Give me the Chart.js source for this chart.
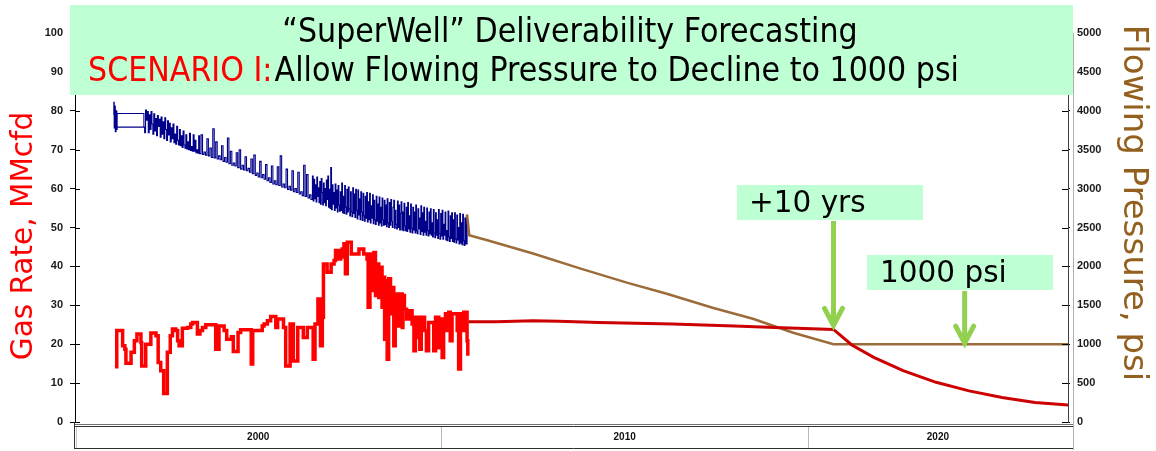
<!DOCTYPE html>
<html>
<head>
<meta charset="utf-8">
<script src="https://cdn.jsdelivr.net/npm/chart.js@4.4.1/dist/chart.umd.min.js"></script>
<style>
  html, body { margin: 0; padding: 0; background: #ffffff; overflow: hidden; }
  canvas { display: block; }
</style>
</head>
<body>
<canvas id="chart" width="1156" height="451"></canvas>
<script>
// ---- Axis definitions ----
const yearMin = 2000;
const yearMax = 2027.1;
const decadeStarts = [2000, 2010, 2020];
const decadeLabels = ['2000', '2010', '2020'];
const gasRateTicks = [0, 10, 20, 30, 40, 50, 60, 70, 80, 90, 100];
const pressureTicks = [0, 500, 1000, 1500, 2000, 2500, 3000, 3500, 4000, 4500, 5000];

// ---- Gas rate history, MMcfd (step series: value holds until next date) ----
const gasHistory = [
  [2001.09, 14.2], [2001.14, 23.5], [2001.30, 19.6], [2001.36, 18.7], [2001.39, 15.1],
  [2001.53, 17.9], [2001.62, 20.9], [2001.69, 22.6], [2001.80, 20.4], [2001.82, 14.4],
  [2001.93, 20.0], [2002.07, 22.9], [2002.21, 22.2], [2002.27, 15.3], [2002.34, 13.2],
  [2002.42, 7.3], [2002.52, 17.9], [2002.60, 22.2], [2002.66, 23.9], [2002.75, 23.5],
  [2002.80, 20.9], [2002.84, 19.6], [2002.93, 24.1], [2003.07, 24.3], [2003.16, 25.2],
  [2003.21, 25.6], [2003.34, 22.6], [2003.41, 23.5], [2003.48, 24.3], [2003.57, 25.0],
  [2003.84, 18.7], [2003.93, 24.7], [2004.07, 23.5], [2004.14, 21.3], [2004.27, 21.9],
  [2004.32, 18.1], [2004.45, 23.0], [2004.52, 23.7], [2004.81, 14.9], [2004.85, 23.5],
  [2005.11, 24.7], [2005.16, 25.2], [2005.25, 26.0], [2005.34, 27.1], [2005.48, 24.3],
  [2005.53, 26.5], [2005.69, 24.3], [2005.75, 14.4], [2005.87, 25.2], [2005.96, 15.7],
  [2006.08, 24.3], [2006.23, 21.7], [2006.34, 24.3], [2006.50, 16.1], [2006.55, 25.2],
  [2006.63, 31.6], [2006.70, 19.6], [2006.75, 26.9], [2006.78, 40.6], [2006.88, 38.5],
  [2006.99, 40.6], [2007.07, 41.5], [2007.11, 44.1], [2007.20, 41.9], [2007.25, 42.4],
  [2007.29, 44.5], [2007.34, 45.8], [2007.38, 38.1], [2007.43, 46.2], [2007.54, 43.2],
  [2007.75, 44.5], [2007.88, 43.2], [2007.97, 41.9], [2008.00, 29.5], [2008.05, 43.2],
  [2008.11, 33.8], [2008.16, 43.6], [2008.20, 32.5], [2008.25, 40.6], [2008.29, 32.0],
  [2008.34, 39.8], [2008.38, 29.5], [2008.41, 37.2], [2008.45, 21.3], [2008.47, 36.3],
  [2008.52, 16.1], [2008.56, 36.8], [2008.61, 27.8], [2008.65, 34.6], [2008.70, 19.6],
  [2008.74, 32.9], [2008.79, 24.7], [2008.84, 32.9], [2008.93, 24.3], [2008.95, 32.5],
  [2008.99, 29.0], [2009.05, 26.5], [2009.11, 28.6], [2009.20, 25.2], [2009.25, 18.3],
  [2009.29, 26.9], [2009.34, 21.7], [2009.38, 26.9], [2009.41, 18.7], [2009.45, 26.9],
  [2009.54, 23.5], [2009.59, 18.3], [2009.65, 25.6], [2009.79, 18.3], [2009.84, 26.9],
  [2009.93, 19.1], [2009.97, 26.5], [2010.02, 16.6], [2010.06, 26.0], [2010.11, 27.8],
  [2010.15, 23.5], [2010.20, 28.2], [2010.24, 20.9], [2010.29, 27.8], [2010.43, 23.5],
  [2010.47, 13.6], [2010.52, 27.8], [2010.56, 23.5], [2010.61, 28.2], [2010.70, 20.9],
  [2010.72, 17.0]
];

// ---- Gas rate forecast, MMcfd ----
const gasForecast = [
  [2010.74, 25.8], [2011.5, 25.8], [2012.5, 26.0], [2013.2, 25.9], [2014.3, 25.6],
  [2016.3, 25.2], [2018.0, 24.7], [2019.1, 24.3], [2020.7, 23.8], [2021.2, 19.8],
  [2021.8, 16.6], [2022.6, 13.2], [2023.5, 10.2], [2024.4, 8.0], [2025.3, 6.3],
  [2026.2, 5.0], [2027.1, 4.4]
];

// ---- Flowing pressure history, psi (step series) ----
const pressureHistory = [
  [2001.05, 3950], [2001.06, 4110], [2001.07, 3780], [2001.09, 4060], [2001.10, 3730],
  [2001.12, 4000], [2001.14, 3760], [2001.15, 3965], [2001.88, 3905], [2001.88, 3790],
  [2001.16, 3790], [2001.88, 3790],
  [2001.900, 3720], [2001.925, 4010], [2001.950, 3880], [2001.975, 3990], [2002.000, 3720],
  [2002.025, 3950], [2002.050, 3760], [2002.075, 3990], [2002.100, 3830], [2002.125, 3700],
  [2002.150, 3960], [2002.175, 3740], [2002.200, 3900], [2002.225, 3680], [2002.250, 3940],
  [2002.275, 3800], [2002.300, 3890], [2002.325, 3660], [2002.350, 3920], [2002.375, 3700],
  [2002.400, 3860], [2002.425, 3640], [2002.450, 3910], [2002.475, 3760], [2002.500, 3620],
  [2002.525, 3870], [2002.550, 3690], [2002.575, 3840], [2002.600, 3600], [2002.625, 3780],
  [2002.650, 3640], [2002.675, 3830], [2002.700, 3590], [2002.725, 3700], [2002.750, 3570],
  [2002.775, 3800], [2002.800, 3620], [2002.825, 3560], [2002.850, 3760], [2002.875, 3550],
  [2002.900, 3680], [2002.925, 3530], [2002.950, 3740], [2002.975, 3560], [2003.000, 3520],
  [2003.025, 3690], [2003.050, 3510], [2003.075, 3600], [2003.100, 3500], [2003.125, 3710],
  [2003.150, 3490], [2003.175, 3540], [2003.200, 3480], [2003.225, 3690], [2003.250, 3480],
  [2003.275, 3620], [2003.300, 3460], [2003.325, 3500], [2003.350, 3455], [2003.375, 3680],
  [2003.400, 3450],
  [2003.44, 3690], [2003.48, 3440], [2003.52, 3470], [2003.56, 3430], [2003.60, 3640],
  [2003.64, 3420], [2003.68, 3520], [2003.72, 3400], [2003.76, 3770], [2003.80, 3395],
  [2003.84, 3600], [2003.88, 3380], [2003.92, 3420], [2003.96, 3370], [2004.00, 3550],
  [2004.04, 3350], [2004.08, 3400], [2004.12, 3340], [2004.16, 3650], [2004.20, 3320],
  [2004.24, 3480], [2004.28, 3300], [2004.32, 3330], [2004.36, 3290], [2004.40, 3460],
  [2004.44, 3270], [2004.48, 3500], [2004.52, 3250], [2004.56, 3300], [2004.60, 3240],
  [2004.64, 3410], [2004.68, 3230], [2004.72, 3260], [2004.76, 3210], [2004.80, 3380],
  [2004.84, 3190], [2004.88, 3430], [2004.92, 3170], [2004.96, 3200], [2005.00, 3150],
  [2005.04, 3350], [2005.08, 3140], [2005.12, 3180], [2005.16, 3120], [2005.20, 3310],
  [2005.24, 3100], [2005.28, 3140], [2005.32, 3080], [2005.36, 3290], [2005.40, 3060],
  [2005.44, 3100], [2005.48, 3050], [2005.52, 3280], [2005.56, 3040], [2005.60, 3420],
  [2005.64, 3020], [2005.68, 3060], [2005.72, 3010], [2005.76, 3250], [2005.80, 2990],
  [2005.84, 3030], [2005.88, 2980], [2005.92, 3230], [2005.96, 2960], [2006.00, 3000],
  [2006.04, 2950], [2006.08, 3210], [2006.12, 2930], [2006.16, 2960], [2006.20, 2910],
  [2006.24, 3300], [2006.28, 2900], [2006.32, 3180], [2006.36, 2880], [2006.40, 2920],
  [2006.44, 2860], [2006.48, 3160],
  [2006.50, 2840], [2006.52, 3120], [2006.54, 2870], [2006.56, 3050], [2006.58, 2830],
  [2006.60, 3150], [2006.62, 2900], [2006.64, 3010], [2006.66, 2820], [2006.68, 3090],
  [2006.70, 2800], [2006.72, 3130], [2006.74, 2950], [2006.76, 2790], [2006.78, 3070],
  [2006.80, 2820], [2006.82, 3000], [2006.84, 2780], [2006.86, 3110], [2006.88, 2860],
  [2006.90, 3160], [2006.92, 2760], [2006.94, 2990], [2006.96, 2745], [2006.98, 3270],
  [2007.00, 2730], [2007.02, 3050], [2007.04, 2800], [2007.06, 2950], [2007.08, 2720],
  [2007.10, 3060], [2007.12, 2750], [2007.14, 2980], [2007.16, 2700], [2007.18, 3040],
  [2007.20, 2790], [2007.22, 2710], [2007.24, 2960], [2007.26, 2720], [2007.28, 3070],
  [2007.30, 2690], [2007.32, 2900], [2007.34, 2680], [2007.36, 3040], [2007.38, 2760],
  [2007.40, 2670], [2007.42, 2990], [2007.44, 2700], [2007.46, 3020], [2007.48, 2740],
  [2007.50, 2650], [2007.52, 2960], [2007.54, 2700], [2007.56, 2640], [2007.58, 3010],
  [2007.60, 2680], [2007.62, 2930], [2007.64, 2630], [2007.66, 2990], [2007.68, 2720],
  [2007.70, 2610], [2007.72, 2980], [2007.74, 2660], [2007.76, 2870], [2007.78, 2600],
  [2007.80, 2960], [2007.82, 2700], [2007.84, 2590], [2007.86, 2940], [2007.88, 2650],
  [2007.90, 2580], [2007.92, 2900], [2007.94, 2620], [2007.96, 2950], [2007.98, 2570],
  [2008.00, 2830], [2008.02, 2600], [2008.04, 2940], [2008.06, 2560], [2008.08, 2780],
  [2008.10, 2620], [2008.12, 2920], [2008.14, 2550], [2008.16, 2850], [2008.18, 2600],
  [2008.20, 2540], [2008.22, 2900], [2008.24, 2580], [2008.26, 2800], [2008.28, 2530],
  [2008.30, 2890], [2008.32, 2560], [2008.34, 2760], [2008.36, 2520], [2008.38, 2880],
  [2008.40, 2600], [2008.42, 2530], [2008.44, 2850], [2008.46, 2540], [2008.48, 2790],
  [2008.50, 2510], [2008.52, 2870], [2008.54, 2560], [2008.56, 2500], [2008.58, 2820],
  [2008.60, 2530], [2008.62, 2860], [2008.64, 2580], [2008.66, 2500], [2008.68, 2760],
  [2008.70, 2850], [2008.72, 2490], [2008.74, 2720], [2008.76, 2540], [2008.78, 2480],
  [2008.80, 2840], [2008.82, 2500], [2008.84, 2790], [2008.86, 2470], [2008.88, 2680],
  [2008.90, 2830], [2008.92, 2470], [2008.94, 2700], [2008.96, 2460], [2008.98, 2810],
  [2009.00, 2520], [2009.02, 2460], [2009.04, 2760], [2009.06, 2450], [2009.08, 2820],
  [2009.10, 2480], [2009.12, 2650], [2009.14, 2440], [2009.16, 2800], [2009.18, 2490],
  [2009.20, 2430], [2009.22, 2760], [2009.24, 2470], [2009.26, 2700], [2009.28, 2430],
  [2009.30, 2790], [2009.32, 2460], [2009.34, 2420], [2009.36, 2740], [2009.38, 2480],
  [2009.40, 2620], [2009.42, 2410], [2009.44, 2780], [2009.46, 2450], [2009.48, 2690],
  [2009.50, 2400], [2009.52, 2760], [2009.54, 2440], [2009.56, 2580], [2009.58, 2400],
  [2009.60, 2750], [2009.62, 2460], [2009.64, 2390], [2009.66, 2700], [2009.68, 2420],
  [2009.70, 2740], [2009.72, 2400], [2009.74, 2560], [2009.76, 2380], [2009.78, 2730],
  [2009.80, 2430], [2009.82, 2370], [2009.84, 2690], [2009.86, 2400], [2009.88, 2600],
  [2009.90, 2360], [2009.92, 2730], [2009.94, 2420], [2009.96, 2350], [2009.98, 2680],
  [2010.00, 2390], [2010.02, 2720], [2010.04, 2350], [2010.06, 2540], [2010.08, 2400],
  [2010.10, 2700], [2010.12, 2340], [2010.14, 2460], [2010.16, 2330], [2010.18, 2710],
  [2010.20, 2380], [2010.22, 2320], [2010.24, 2650], [2010.26, 2360], [2010.28, 2690],
  [2010.30, 2320], [2010.32, 2600], [2010.34, 2310], [2010.36, 2690], [2010.38, 2350],
  [2010.40, 2300], [2010.42, 2660], [2010.44, 2340], [2010.46, 2500], [2010.48, 2290],
  [2010.50, 2680], [2010.52, 2300], [2010.54, 2560], [2010.56, 2280], [2010.58, 2670],
  [2010.60, 2330], [2010.62, 2270], [2010.64, 2620], [2010.66, 2290], [2010.68, 2650],
  [2010.70, 2280]
];

// ---- Flowing pressure forecast, psi (declines to the 1000 psi floor) ----
const pressureForecast = [
  [2010.70, 2670], [2010.76, 2400], [2011.3, 2330], [2012.5, 2165], [2013.8, 1972],
  [2015.06, 1791], [2016.15, 1649], [2017.4, 1469], [2018.5, 1327], [2019.6, 1147],
  [2020.7, 1000], [2027.1, 1000]
];

// ---- Text ----
const titleLine1 = '\u201CSuperWell\u201D Deliverability Forecasting';
const titleScenario = 'SCENARIO I:';
const titleLine2 = 'Allow Flowing Pressure to Decline to 1000 psi';
const gasAxisTitle = 'Gas Rate, MMcfd';
const pressureAxisTitle = 'Flowing Pressure, psi';
const extensionNote = '+10 yrs';
const floorNote = '1000 psi';
const floorPressure = 1000;
const forecastKneeYear = 2020.7;
const floorArrowYear = 2024.28;

const toPoints = arr => arr.map(p => ({ x: p[0], y: p[1] }));

const MINT = '#BEFFD4';
const ARROW = '#92D050';
const tickFont = { family: 'Liberation Sans, Arial, sans-serif', size: 11, weight: 'bold' };

// Decade band under the plot, inner halves of the y-axis tick marks, axis titles
const axisDecor = {
  id: 'axisDecor',
  afterDraw(chart) {
    const ctx = chart.ctx;
    const xs = chart.scales.x;
    const area = chart.chartArea;
    ctx.save();
    ctx.strokeStyle = '#000';
    ctx.lineWidth = 1;
    const yl = chart.scales.y, yr = chart.scales.y1;
    yl.ticks.forEach(t => {
      const py = Math.round(yl.getPixelForValue(t.value)) + 0.5;
      ctx.beginPath(); ctx.moveTo(area.left, py); ctx.lineTo(area.left + 5, py); ctx.stroke();
    });
    yr.ticks.forEach(t => {
      const py = Math.round(yr.getPixelForValue(t.value)) + 0.5;
      ctx.beginPath(); ctx.moveTo(area.right - 6, py); ctx.lineTo(area.right, py); ctx.stroke();
    });
    ctx.strokeStyle = '#b0b0b0';
    ctx.beginPath(); ctx.moveTo(area.right + 5.5, area.top); ctx.lineTo(area.right + 5.5, 450); ctx.stroke();

    // decade band
    const top = area.bottom + 2, bot = 448;
    ctx.strokeStyle = '#707070';
    ctx.beginPath(); ctx.moveTo(area.left - 1, top + 0.5); ctx.lineTo(area.right + 5, top + 0.5); ctx.stroke();
    ctx.strokeStyle = '#303030';
    ctx.beginPath(); ctx.moveTo(area.left - 1, top + 2.5); ctx.lineTo(area.right + 5, top + 2.5); ctx.stroke();
    ctx.beginPath(); ctx.moveTo(area.left - 1, bot + 0.5); ctx.lineTo(area.right + 5, bot + 0.5); ctx.stroke();
    ctx.beginPath(); ctx.moveTo(area.left - 0.5, area.bottom); ctx.lineTo(area.left - 0.5, bot + 1); ctx.stroke();
    ctx.strokeStyle = '#c8c8c8';
    ctx.beginPath(); ctx.moveTo(area.left + 1.5, top + 3); ctx.lineTo(area.left + 1.5, bot); ctx.stroke();
    ctx.font = 'bold 10px Liberation Sans, Arial, sans-serif';
    ctx.fillStyle = '#111';
    ctx.textAlign = 'center';
    ctx.textBaseline = 'middle';
    decadeStarts.forEach((d, i) => {
      const x0 = Math.max(xs.getPixelForValue(d), area.left);
      const x1 = i < decadeStarts.length - 1 ? xs.getPixelForValue(decadeStarts[i + 1]) : area.right;
      if (i > 0) {
        ctx.strokeStyle = '#b8b8b8';
        const dx = Math.round(x0) + 0.5;
        ctx.beginPath(); ctx.moveTo(dx, top + 3); ctx.lineTo(dx, bot); ctx.stroke();
      }
      ctx.fillText(decadeLabels[i], (x0 + x1) / 2, (top + bot) / 2 + 1);
    });

    // axis titles
    ctx.textAlign = 'center';
    ctx.textBaseline = 'alphabetic';
    ctx.save();
    ctx.translate(32, 236);
    ctx.rotate(-Math.PI / 2);
    ctx.fillStyle = '#FF0000';
    ctx.font = '29.5px "DejaVu Sans", Verdana, sans-serif';
    ctx.fillText(gasAxisTitle, 0, 0);
    ctx.restore();
    ctx.save();
    ctx.translate(1124, 203);
    ctx.rotate(Math.PI / 2);
    ctx.fillStyle = '#93601F';
    ctx.font = '34px "DejaVu Sans", Verdana, sans-serif';
    ctx.fillText(pressureAxisTitle, 0, 0);
    ctx.restore();
    ctx.restore();
  }
};

function drawArrow(ctx, x, y0, y1) {
  ctx.save();
  ctx.strokeStyle = ARROW;
  ctx.lineWidth = 5;
  ctx.lineCap = 'butt';
  ctx.beginPath(); ctx.moveTo(x, y0); ctx.lineTo(x, y1 - 3); ctx.stroke();
  ctx.lineCap = 'round';
  ctx.lineJoin = 'miter';
  ctx.beginPath();
  ctx.moveTo(x - 9, y1 - 17); ctx.lineTo(x, y1); ctx.lineTo(x + 9, y1 - 17);
  ctx.stroke();
  ctx.restore();
}

// Title panel and the two callouts
const callouts = {
  id: 'callouts',
  afterDraw(chart) {
    const ctx = chart.ctx;
    const xs = chart.scales.x, yl = chart.scales.y, yr = chart.scales.y1;
    ctx.save();
    ctx.fillStyle = MINT;
    ctx.fillRect(70, 5, 1003, 90);
    ctx.textBaseline = 'middle';
    ctx.font = '33.5px "DejaVu Sans Condensed", "DejaVu Sans", sans-serif';
    ctx.fillStyle = '#000';
    ctx.textAlign = 'center';
    ctx.fillText(titleLine1, 570, 33);
    ctx.textAlign = 'left';
    ctx.fillStyle = '#FF0000';
    ctx.fillText(titleScenario, 88, 72);
    const w = ctx.measureText(titleScenario).width;
    ctx.fillStyle = '#000';
    ctx.fillText(titleLine2, 88 + w + 2, 72);

    ctx.fillStyle = MINT;
    ctx.fillRect(737, 185, 186, 35);
    ctx.fillRect(867, 255, 186, 35);
    ctx.fillStyle = '#000';
    ctx.font = '29.5px "DejaVu Sans", Verdana, sans-serif';
    ctx.fillText(extensionNote, 749, 204);
    ctx.fillText(floorNote, 880, 274);

    const kneeX = xs.getPixelForValue(forecastKneeYear);
    const kneeY = yl.getPixelForValue(gasForecast.find(p => p[0] === forecastKneeYear)[1]);
    drawArrow(ctx, kneeX, 221, kneeY - 4);
    const floorX = xs.getPixelForValue(floorArrowYear);
    const floorY = yr.getPixelForValue(floorPressure);
    drawArrow(ctx, floorX, 291, floorY - 1);
    ctx.restore();
  }
};

new Chart(document.getElementById('chart'), {
  type: 'line',
  data: {
    datasets: [
      {
        label: 'Gas rate forecast',
        data: toPoints(gasForecast),
        yAxisID: 'y',
        borderColor: '#CC0000',
        borderWidth: 3,
        pointRadius: 0,
        tension: 0,
        order: 0
      },
      {
        label: 'Gas rate',
        data: toPoints(gasHistory),
        yAxisID: 'y',
        borderColor: '#FF0000',
        borderWidth: 3.5,
        pointRadius: 0,
        stepped: true,
        order: 1
      },
      {
        label: 'Flowing pressure forecast',
        data: toPoints(pressureForecast),
        yAxisID: 'y1',
        borderColor: '#9C6B3A',
        borderWidth: 2.5,
        pointRadius: 0,
        tension: 0,
        order: 2
      },
      {
        label: 'Flowing pressure',
        data: toPoints(pressureHistory),
        yAxisID: 'y1',
        borderColor: '#00008B',
        borderWidth: 1.1,
        pointRadius: 0,
        stepped: true,
        order: 3
      }
    ]
  },
  options: {
    responsive: false,
    animation: false,
    events: [],
    layout: { padding: { top: 33, left: 0, right: 0, bottom: 0 } },
    plugins: { legend: { display: false }, tooltip: { enabled: false }, title: { display: false } },
    scales: {
      x: {
        type: 'linear',
        min: yearMin,
        max: yearMax,
        display: true,
        grid: { display: false },
        border: { display: false },
        ticks: { display: false },
        afterFit: s => { s.height = 29; }
      },
      y: {
        type: 'linear',
        position: 'left',
        min: 0,
        max: 100,
        afterBuildTicks: s => { s.ticks = gasRateTicks.map(v => ({ value: v })); },
        grid: { drawOnChartArea: false, tickLength: 5, color: '#000' },
        border: { display: true, color: '#000', width: 1 },
        ticks: { font: tickFont, color: '#1a1a1a', padding: 7, callback: v => String(v) },
        afterFit: s => { s.width = 75; }
      },
      y1: {
        type: 'linear',
        position: 'right',
        min: 0,
        max: 5000,
        afterBuildTicks: s => { s.ticks = pressureTicks.map(v => ({ value: v })); },
        grid: { drawOnChartArea: false, tickLength: 2, color: '#000' },
        border: { display: true, color: '#404040', width: 1 },
        ticks: { font: tickFont, color: '#1a1a1a', padding: 7, callback: v => String(v) },
        afterFit: s => { s.width = 88; }
      }
    }
  },
  plugins: [axisDecor, callouts]
});
</script>
</body>
</html>
